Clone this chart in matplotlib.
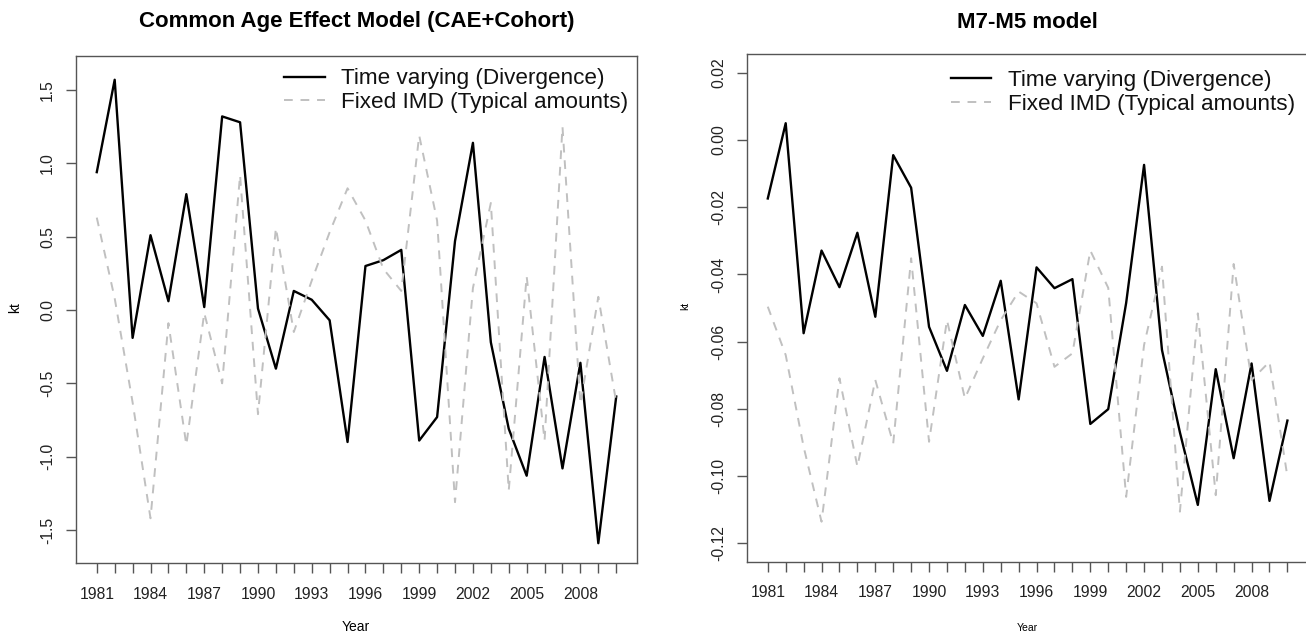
import matplotlib
matplotlib.use("Agg")
import matplotlib.pyplot as plt
import numpy as np

plt.rcParams['font.family'] = ['Liberation Sans', 'DejaVu Sans']

years = list(range(1981, 2011))

cae_time_varying = [0.94, 1.57, -0.19, 0.51, 0.06, 0.79, 0.02, 1.32, 1.28, 0.01,
                    -0.40, 0.13, 0.07, -0.07, -0.90, 0.30, 0.34, 0.41, -0.89, -0.73,
                    0.47, 1.14, -0.22, -0.81, -1.13, -0.32, -1.08, -0.36, -1.59, -0.59]
cae_fixed_imd = [0.63, 0.08, -0.63, -1.42, -0.09, -0.92, -0.02, -0.50, 0.92, -0.71,
                 0.56, -0.15, 0.20, 0.53, 0.83, 0.61, 0.28, 0.13, 1.19, 0.61,
                 -1.31, 0.15, 0.73, -1.23, 0.23, -0.89, 1.25, -0.64, 0.09, -0.63]

m75_time_varying = [-0.0174, 0.0050, -0.0575, -0.0329, -0.0438, -0.0276, -0.0526, -0.0045, -0.0142, -0.0556,
                    -0.0687, -0.0491, -0.0583, -0.0419, -0.0772, -0.0379, -0.0441, -0.0414, -0.0845, -0.0801,
                    -0.0485, -0.0074, -0.0625, -0.0870, -0.1086, -0.0682, -0.0947, -0.0665, -0.1074, -0.0835]
m75_fixed_imd = [-0.0496, -0.0640, -0.0913, -0.1136, -0.0709, -0.0972, -0.0714, -0.0903, -0.0352, -0.0898,
                 -0.0536, -0.0769, -0.0650, -0.0536, -0.0451, -0.0486, -0.0675, -0.0635, -0.0329, -0.0440,
                 -0.1062, -0.0610, -0.0377, -0.1106, -0.0516, -0.1057, -0.0369, -0.0714, -0.0660, -0.1002]

series_labels = ["Time varying (Divergence)", "Fixed IMD (Typical amounts)"]
titles = ["Common Age Effect Model (CAE+Cohort)", "M7-M5 model"]
left_yticks = [-1.5, -1.0, -0.5, 0.0, 0.5, 1.0, 1.5]
right_yticks = [-0.12, -0.10, -0.08, -0.06, -0.04, -0.02, 0.00, 0.02]
xtick_labels = [1981, 1984, 1987, 1990, 1993, 1996, 1999, 2002, 2005, 2008]

W, H = 1306, 637
fig = plt.figure(figsize=(W / 100, H / 100), dpi=100)

axL = fig.add_axes([76 / W, (H - 563) / H, 561 / W, (563 - 55.7) / H])
axR = fig.add_axes([747 / W, (H - 561.7) / H, 561.2 / W, (561.7 - 54) / H])

spine_col = "#555555"
gray = "#c0c0c0"


def style(ax, tv, fx, ylim, yticks, fmt, leg_anchor):
    ax.plot(years, tv, color="black", lw=1.7, label=series_labels[0])
    ax.plot(years, fx, color=gray, lw=1.4, dashes=(4.5, 4), label=series_labels[1])
    ax.set_xlim(1979.84, 2011.16)
    ax.set_ylim(*ylim)
    ax.set_xticks(years)
    ax.set_xticklabels([str(y) if y in xtick_labels else "" for y in years])
    ax.set_yticks(yticks)
    ax.set_yticklabels([fmt.format(v) for v in yticks], rotation=90, va="center")
    ax.tick_params(direction="out", length=7, width=1, color=spine_col,
                   labelsize=11.3, labelcolor="#222222")
    ax.tick_params(axis="x", pad=10)
    ax.tick_params(axis="y", pad=8)
    for s in ax.spines.values():
        s.set_color(spine_col)
        s.set_linewidth(1.0)
    leg = ax.legend(loc="upper right", bbox_to_anchor=leg_anchor, frameon=False,
                    fontsize=16.2, handlelength=1.8, handletextpad=0.75,
                    borderpad=0, borderaxespad=0, labelspacing=0.12)
    for t in leg.get_texts():
        t.set_color("#111111")


style(axL, cae_time_varying, cae_fixed_imd, (-1.725, 1.734), left_yticks, "{:.1f}", (0.985, 0.975))
style(axR, m75_time_varying, m75_fixed_imd, (-0.1255, 0.0256), right_yticks, "{:.2f}", (0.977, 0.968))

# titles
fig.text((76 + 637) / 2 / W, 1 - 22 / H, titles[0], ha="center", va="center",
         fontsize=16, fontweight="bold")
fig.text((747 + 1308) / 2 / W, 1 - 22 / H, titles[1], ha="center", va="center",
         fontsize=16, fontweight="bold")

# axis labels
fig.text(15 / W, 1 - 308 / H, "kt", rotation=90, ha="center", va="center", fontsize=10)
fig.text(356 / W, 1 - 627 / H, "Year", ha="center", va="center", fontsize=10)
fig.text(685 / W, 1 - 306 / H, "kt", rotation=90, ha="center", va="center", fontsize=7.5)
fig.text(1027 / W, 1 - 628 / H, "Year", ha="center", va="center", fontsize=7.5)

fig.savefig("out.png", dpi=100, facecolor="white")
